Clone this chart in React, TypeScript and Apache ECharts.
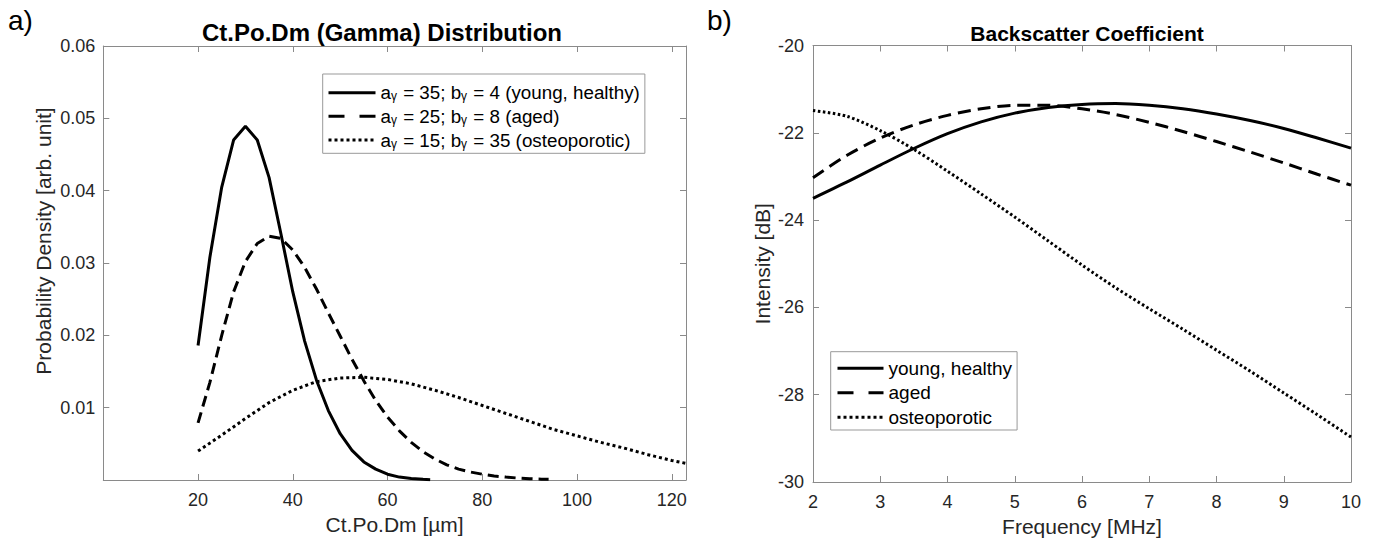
import React, { useEffect, useRef } from "react";
import * as echarts from "echarts";

// ---------- a) Ct.Po.Dm (Gamma) distribution ----------
const healthyDiam = [20, 22.5, 25, 27.5, 30, 32.5, 35, 37.5, 40, 42.5, 45, 47.5, 50, 52.5, 55, 57.5, 60, 62.5, 65, 67.5, 69];
const healthyPdf = [0.0186, 0.0308, 0.0405, 0.047, 0.0489, 0.047, 0.0418, 0.034, 0.026, 0.0192, 0.0138, 0.0096, 0.0064, 0.0041, 0.0025, 0.0015, 0.0008, 0.0004, 0.0002, 0.0001, 0.00005];

const agedDiam = [20, 22.5, 25, 27.5, 30, 32.5, 35, 37.5, 40, 42.5, 45, 47.5, 50, 52.5, 55, 57.5, 60, 62.5, 65, 67.5, 70, 72.5, 75, 77.5, 80, 82.5, 85, 87.5, 90, 92.5, 94];
const agedPdf = [0.0079, 0.0135, 0.02, 0.026, 0.0302, 0.0327, 0.0337, 0.0334, 0.0318, 0.0294, 0.0264, 0.0231, 0.0199, 0.0167, 0.0137, 0.011, 0.0087, 0.0068, 0.0052, 0.0039, 0.0029, 0.0021, 0.0015, 0.0011, 0.0008, 0.00055, 0.0004, 0.00027, 0.00018, 0.00012, 0.0001];

const osteoDiam = [20, 25, 30, 35, 40, 45, 50, 55, 60, 65, 70, 75, 80, 85, 90, 95, 100, 105, 110, 115, 120, 123];
const osteoPdf = [0.004, 0.0062, 0.0085, 0.0107, 0.0124, 0.0136, 0.0141, 0.0142, 0.0139, 0.0133, 0.0124, 0.0114, 0.0103, 0.0092, 0.0081, 0.007, 0.0061, 0.0052, 0.0044, 0.0035, 0.0027, 0.0023];

const diamTicks = [20, 40, 60, 80, 100, 120];
const pdfTicks = [0.01, 0.02, 0.03, 0.04, 0.05, 0.06];

const namesA = [
  "aγ = 35; bγ = 4 (young, healthy)",
  "aγ = 25; bγ = 8 (aged)",
  "aγ = 15; bγ = 35 (osteoporotic)",
];

// ---------- b) Backscatter coefficient ----------
const freqMHz = [2, 2.5, 3, 3.5, 4, 4.5, 5, 5.5, 6, 6.5, 7, 7.5, 8, 8.5, 9, 9.5, 10];
const healthyDb = [-23.5, -23.13, -22.74, -22.36, -22.02, -21.75, -21.55, -21.42, -21.35, -21.33, -21.37, -21.45, -21.57, -21.72, -21.9, -22.12, -22.35];
const agedDb = [-23.03, -22.52, -22.12, -21.82, -21.6, -21.45, -21.37, -21.37, -21.45, -21.58, -21.76, -21.97, -22.2, -22.44, -22.69, -22.95, -23.2];
const osteoDb = [-21.49, -21.62, -21.95, -22.38, -22.88, -23.4, -23.93, -24.48, -25.03, -25.55, -26.03, -26.5, -26.98, -27.46, -27.96, -28.46, -28.97];

const namesB = ["young, healthy", "aged", "osteoporotic"];

const FONT = '"Liberation Sans", Arial, Helvetica, sans-serif';
const AXIS_GRAY = "#8a8a8a";
const TEXT_DARK = "#262626";

const zip = (xs: number[], ys: number[]) => xs.map((x, i) => [x, ys[i]]);

const solid = { color: "#000", width: 3, type: "solid" as const };
const dashedA = { color: "#000", width: 3, type: [11, 6] };
const dottedA = { color: "#000", width: 3, type: [3, 3] };
const dashedB = { color: "#000", width: 3, type: [13, 7] };
const dottedB = { color: "#000", width: 3, type: [2.5, 2.5] };

function boxAxisCommon() {
  return {
    axisLine: { show: true, onZero: false, lineStyle: { color: AXIS_GRAY, width: 1 } },
    axisTick: { show: true, inside: true, length: 6, lineStyle: { color: AXIS_GRAY, width: 1 } },
    splitLine: { show: false },
  };
}

export default function App() {
  const ref = useRef<HTMLDivElement>(null);
  useEffect(() => {
    if (!ref.current) return;
    const chart = echarts.init(ref.current, undefined, { renderer: "svg" });

    const gridA = { left: 103.3, top: 46, width: 582.7, height: 434 };
    const gridB = { left: 813, top: 45.5, width: 538, height: 436.5 };

    const tickLabel = { color: TEXT_DARK, fontSize: 18, fontFamily: FONT };
    const nameText = { color: TEXT_DARK, fontSize: 21, fontFamily: FONT };

    const legendLines = [
      { type: "solid", width: 3, color: "#000", opacity: 1 },
      { type: [16, 15], width: 3, color: "#000", opacity: 1 },
      { type: [3, 3], width: 3, color: "#000", opacity: 1 },
    ];
    const hiddenSymbol = { color: "rgba(0,0,0,0)", borderWidth: 0, borderColor: "rgba(0,0,0,0)" };

    const option: any = {
      animation: false,
      backgroundColor: "#fff",
      textStyle: { fontFamily: FONT },
      title: [
        {
          text: "Ct.Po.Dm (Gamma) Distribution",
          left: 377,
          top: 15,
          textAlign: "center",
          textStyle: { fontSize: 24, fontWeight: "bold", color: "#000", fontFamily: FONT },
        },
        {
          text: "Backscatter Coefficient",
          left: 1082,
          top: 18,
          textAlign: "center",
          textStyle: { fontSize: 21, fontWeight: "bold", color: "#000", fontFamily: FONT },
        },
      ],
      graphic: [
        { type: "text", left: 8, top: 6, style: { text: "a)", fontSize: 28, fill: "#000", fontFamily: FONT } },
        { type: "text", left: 707, top: 6, style: { text: "b)", fontSize: 28, fill: "#000", fontFamily: FONT } },
      ],
      grid: [gridA, gridB],
      xAxis: [
        {
          gridIndex: 0,
          type: "value",
          min: 0,
          max: 123,
          interval: 20,
          position: "bottom",
          name: "Ct.Po.Dm [µm]",
          nameLocation: "middle",
          nameGap: 33,
          nameTextStyle: nameText,
          ...boxAxisCommon(),
          axisLabel: {
            ...tickLabel,
            margin: 11,
            showMinLabel: false,
            showMaxLabel: false,
            formatter: (v: number) => (diamTicks.includes(v) ? String(v) : ""),
          },
        },
        {
          gridIndex: 0,
          type: "value",
          min: 0,
          max: 123,
          interval: 20,
          position: "top",
          ...boxAxisCommon(),
          axisLabel: { show: false },
        },
        {
          gridIndex: 1,
          type: "value",
          min: 2,
          max: 10,
          interval: 1,
          position: "bottom",
          name: "Frequency [MHz]",
          nameLocation: "middle",
          nameGap: 32,
          nameTextStyle: nameText,
          ...boxAxisCommon(),
          axisLabel: { ...tickLabel, margin: 11 },
        },
        {
          gridIndex: 1,
          type: "value",
          min: 2,
          max: 10,
          interval: 1,
          position: "top",
          ...boxAxisCommon(),
          axisLabel: { show: false },
        },
      ],
      yAxis: [
        {
          gridIndex: 0,
          type: "value",
          min: 0,
          max: 0.06,
          interval: 0.01,
          position: "left",
          name: "Probability Density [arb. unit]",
          nameLocation: "middle",
          nameGap: 49,
          nameTextStyle: { ...nameText, padding: [0, 0, 0, 44] },
          ...boxAxisCommon(),
          axisLabel: {
            ...tickLabel,
            margin: 8,
            formatter: (v: number) => {
              const r = Math.round(v * 100) / 100;
              return pdfTicks.includes(r) ? r.toFixed(2) : "";
            },
          },
        },
        {
          gridIndex: 0,
          type: "value",
          min: 0,
          max: 0.06,
          interval: 0.01,
          position: "right",
          ...boxAxisCommon(),
          axisLabel: { show: false },
        },
        {
          gridIndex: 1,
          type: "value",
          min: -30,
          max: -20,
          interval: 2,
          position: "left",
          name: "Intensity [dB]",
          nameLocation: "middle",
          nameGap: 40,
          nameTextStyle: nameText,
          ...boxAxisCommon(),
          axisLabel: { ...tickLabel, margin: 9 },
        },
        {
          gridIndex: 1,
          type: "value",
          min: -30,
          max: -20,
          interval: 2,
          position: "right",
          ...boxAxisCommon(),
          axisLabel: { show: false },
        },
      ],
      legend: [
        {
          orient: "vertical",
          left: 322.7,
          top: 74,
          padding: [9.2, 5, 3.8, 4.3],
          itemWidth: 47,
          itemHeight: 19,
          itemGap: 4.65,
          backgroundColor: "#fff",
          borderColor: "#999",
          borderWidth: 1,
          borderRadius: 0,
          selectedMode: false,
          data: namesA.map((n, i) => ({ name: n, lineStyle: legendLines[i], itemStyle: hiddenSymbol })),
          formatter: (name: string) => name.replace(/γ/g, "{s|γ}"),
          textStyle: {
            color: "#000",
            fontSize: 18.8,
            fontFamily: FONT,
            rich: {
              s: { fontSize: 12, fontFamily: FONT, color: "#000", verticalAlign: "bottom", padding: [0, 1, 0, 0] },
            },
          },
        },
        {
          orient: "vertical",
          left: 830.7,
          top: 351.7,
          padding: [7.1, 5, 3.2, 5.3],
          itemWidth: 46,
          itemHeight: 19,
          itemGap: 5.5,
          backgroundColor: "#fff",
          borderColor: "#999",
          borderWidth: 1,
          borderRadius: 0,
          selectedMode: false,
          data: namesB.map((n, i) => ({ name: n, lineStyle: legendLines[i], itemStyle: hiddenSymbol })),
          textStyle: { color: "#000", fontSize: 19, fontFamily: FONT },
        },
      ],
      series: [
        { name: namesA[0], type: "line", xAxisIndex: 0, yAxisIndex: 0, symbol: "none", lineStyle: solid, itemStyle: { color: "#000" }, data: zip(healthyDiam, healthyPdf) },
        { name: namesA[1], type: "line", xAxisIndex: 0, yAxisIndex: 0, symbol: "none", lineStyle: dashedA, itemStyle: { color: "#000" }, data: zip(agedDiam, agedPdf) },
        { name: namesA[2], type: "line", xAxisIndex: 0, yAxisIndex: 0, symbol: "none", lineStyle: dottedA, itemStyle: { color: "#000" }, data: zip(osteoDiam, osteoPdf) },
        { name: namesB[0], type: "line", xAxisIndex: 2, yAxisIndex: 2, symbol: "none", smooth: 0.3, lineStyle: solid, itemStyle: { color: "#000" }, data: zip(freqMHz, healthyDb) },
        { name: namesB[1], type: "line", xAxisIndex: 2, yAxisIndex: 2, symbol: "none", smooth: 0.3, lineStyle: dashedB, itemStyle: { color: "#000" }, data: zip(freqMHz, agedDb) },
        { name: namesB[2], type: "line", xAxisIndex: 2, yAxisIndex: 2, symbol: "none", smooth: 0.3, lineStyle: dottedB, itemStyle: { color: "#000" }, data: zip(freqMHz, osteoDb) },
      ],
    };
    chart.setOption(option);
    return () => chart.dispose();
  }, []);

  return (
    <div
      ref={ref}
      style={{ position: "fixed", left: 0, top: 0, width: 1377, height: 543, background: "#fff" }}
    />
  );
}
